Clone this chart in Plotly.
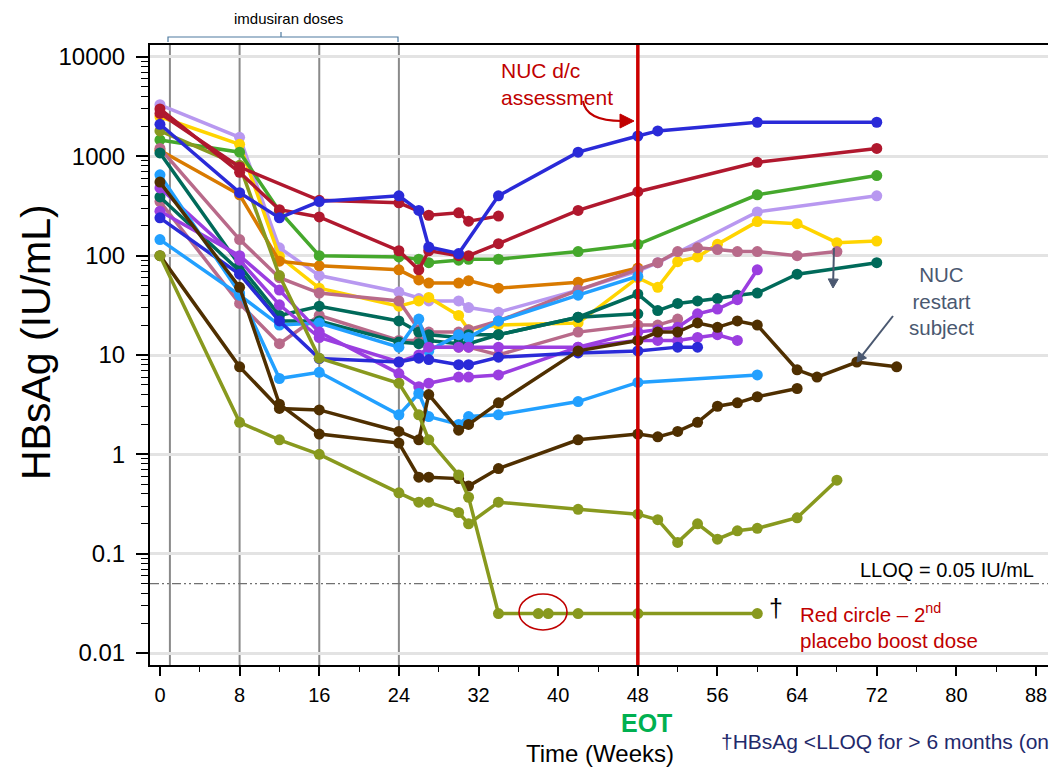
import math
import plotly.graph_objects as go

# ---------------- data (weeks, HBsAg IU/mL) ----------------
blueA_w = [0, 8, 12, 16, 24, 26, 27, 30, 34, 42, 48, 50, 60, 72]
blueA_v = [2100, 430, 240, 350, 400, 285, 122, 105, 400, 1100, 1600, 1800, 2200, 2200]

crimA_w = [0, 8, 16, 24, 27, 30, 31, 34]
crimA_v = [2700, 780, 360, 340, 255, 270, 222, 250]

crimB_w = [0, 8, 12, 16, 24, 26, 27, 30, 31, 34, 42, 48, 60, 72]
crimB_v = [3000, 690, 290, 245, 112, 72, 112, 100, 100, 132, 285, 440, 870, 1200]

green_w = [0, 8, 12, 16, 24, 26, 27, 30, 31, 34, 42, 48, 60, 72]
green_v = [1460, 1100, 280, 100, 97, 92, 85, 90, 92, 92, 110, 130, 410, 640]

lav_w = [0, 8, 12, 16, 24, 26, 27, 30, 31, 34, 42, 48, 50, 60, 72]
lav_v = [3300, 1550, 120, 63, 43, 37, 35, 35, 30, 27, 45, 70, 85, 275, 400]

yel_w = [0, 8, 12, 16, 24, 26, 27, 30, 31, 34, 42, 48, 50, 52, 54, 56, 60, 64, 68, 72]
yel_v = [2500, 1320, 98, 47, 31, 35, 38, 25, 18, 20, 21, 60, 48, 87, 97, 130, 220, 210, 135, 140]

orng_w = [0, 8, 12, 16, 24, 26, 27, 30, 31, 34, 42, 48]
orng_v = [1150, 410, 88, 79, 72, 57, 53, 53, 56, 47, 54, 75]

mauA_w = [0, 8, 12, 16, 24, 26, 27, 30, 31, 34, 42, 48, 50, 52, 54, 56, 58, 60, 64, 68]
mauA_v = [1200, 145, 60, 42, 35, 18, 17, 17, 18, 22, 45, 72, 85, 110, 120, 115, 110, 110, 100, 110]

mauB_w = [0, 8, 12, 16, 24, 26, 27, 30, 31, 34, 42, 48, 50, 52]
mauB_v = [350, 33, 13, 25, 14, 14, 12, 12, 12, 10, 17, 20, 20, 23]

tealA_w = [0, 8, 12, 16, 24, 26, 27, 30, 31, 34, 42, 48, 50, 52, 54, 56, 58, 60, 64, 72]
tealA_v = [1080, 80, 25, 31, 22, 17, 16, 15, 16, 16, 24, 41, 28, 33, 35, 37, 40, 42, 65, 85]

tealB_w = [0, 8, 12, 16, 24, 26, 27, 30, 31, 34, 42, 48]
tealB_v = [390, 70, 22, 22, 13.5, 13, 14, 13, 13, 16, 24, 26]

ltbA_w = [0, 8, 12, 16, 24, 26, 27, 30, 31, 34, 42, 48, 60]
ltbA_v = [650, 42, 5.8, 6.7, 2.5, 4.1, 2.4, 2.0, 2.4, 2.5, 3.4, 5.3, 6.3]

ltbB_w = [0, 8, 12, 16, 24, 26, 27, 30, 31, 34, 42, 48]
ltbB_v = [145, 40, 20, 21, 12, 23, 11, 16, 15, 22, 40, 62]

purA_w = [0, 8, 12, 16, 24, 26, 27, 30, 31, 34, 42, 48, 50, 52, 54, 56, 58, 60]
purA_v = [280, 100, 45, 17, 6.5, 4.8, 5.2, 6, 6, 6.3, 12, 17, 18, 19, 26, 29, 36, 72]

purB_w = [0, 8, 12, 16, 24, 26, 27, 30, 31, 34, 42, 48, 50, 52, 54, 56, 58]
purB_v = [480, 90, 32, 15, 8.5, 10, 12, 12, 12, 12, 12, 14, 14, 14, 15, 16, 14]

blueB_w = [0, 8, 12, 16, 24, 26, 27, 30, 31, 34, 42, 48, 52, 54]
blueB_v = [240, 65, 22, 9.2, 8.5, 9.3, 9, 8, 8, 9.5, 10.5, 11, 12, 12]

brnA_w = [0, 8, 12, 16, 24, 26, 27, 30, 31, 34, 42, 48, 50, 52, 54, 56, 58, 60, 64]
brnA_v = [550, 48, 3.2, 1.6, 1.3, 0.59, 0.59, 0.57, 0.48, 0.72, 1.4, 1.6, 1.5, 1.7, 2.1, 3.05, 3.3, 3.8, 4.6]

brnC_w = [0, 8, 12, 16, 24, 26, 27, 30, 31, 34, 42, 48, 50, 52, 54, 56, 58, 60, 64, 66, 70, 74]
brnC_v = [100, 7.6, 2.9, 2.8, 1.7, 1.4, 4.0, 1.75, 2.0, 3.3, 11, 14, 17, 17, 21, 19, 22, 20, 7.1, 6, 8.5, 7.6]

oliA_w = [0, 8, 12, 16, 24, 26, 27, 30, 31, 34, 42, 48, 50, 52, 54, 56, 58, 60, 64, 68]
oliA_v = [100, 2.1, 1.4, 1.0, 0.41, 0.33, 0.33, 0.26, 0.2, 0.33, 0.28, 0.25, 0.22, 0.13, 0.2, 0.14, 0.17, 0.18, 0.23, 0.55]

oliB_w = [0, 8, 12, 16, 24, 26, 27, 30, 31, 34, 38, 39, 42, 48, 60]
oliB_v = [1800, 810, 63, 9.3, 5.2, 2.5, 1.4, 0.62, 0.37, 0.025, 0.025, 0.025, 0.025, 0.025, 0.025]

x_ticks = [0, 8, 16, 24, 32, 40, 48, 56, 64, 72, 80, 88]
y_ticks = [0.01, 0.1, 1, 10, 100, 1000, 10000]
y_tick_text = ["0.01", "0.1", "1", "10", "100", "1000", "10000"]
dose_weeks = [1, 8, 16, 24]
eot_week = 48
lloq = 0.05
dotted_levels = [100, 10]

# ---------------- colours ----------------
C_BLUE = "#2a2ad8"
C_CRIM = "#b0182e"
C_GREEN = "#45a82c"
C_LAV = "#b898f0"
C_YEL = "#ffd400"
C_ORNG = "#d97a00"
C_MAU = "#b86a8a"
C_TEAL = "#006a5a"
C_LTB = "#22a0ff"
C_PUR = "#9b3ee0"
C_BRN = "#4f2f00"
C_OLI = "#88991e"

series = [
    (lav_w, lav_v, C_LAV),
    (yel_w, yel_v, C_YEL),
    (orng_w, orng_v, C_ORNG),
    (green_w, green_v, C_GREEN),
    (mauA_w, mauA_v, C_MAU),
    (mauB_w, mauB_v, C_MAU),
    (tealB_w, tealB_v, C_TEAL),
    (tealA_w, tealA_v, C_TEAL),
    (ltbB_w, ltbB_v, C_LTB),
    (purB_w, purB_v, C_PUR),
    (purA_w, purA_v, C_PUR),
    (blueB_w, blueB_v, C_BLUE),
    (ltbA_w, ltbA_v, C_LTB),
    (brnA_w, brnA_v, C_BRN),
    (brnC_w, brnC_v, C_BRN),
    (oliA_w, oliA_v, C_OLI),
    (oliB_w, oliB_v, C_OLI),
    (crimB_w, crimB_v, C_CRIM),
    (crimA_w, crimA_v, C_CRIM),
    (blueA_w, blueA_v, C_BLUE),
]

fig = go.Figure()
for w, v, c in series:
    fig.add_trace(go.Scatter(
        x=w, y=v, mode="lines+markers",
        line=dict(color=c, width=3.5),
        marker=dict(color=c, size=11),
        showlegend=False, hoverinfo="skip",
    ))

FONT = "Liberation Sans, Arial, sans-serif"

# page has an 8px body margin: figure origin is at screen (8, 8)
OFF = 8
FIG_W, FIG_H = 1058 - OFF, 767 - OFF
# plot area in screen pixels
L, R, T, B = 150, 1048, 45, 665


def px(x):
    return (x - L) / (R - L)


def py(y):
    return (B - y) / (B - T)


shapes = []
for d in dose_weeks:
    shapes.append(dict(type="line", xref="x", yref="paper", x0=d, x1=d, y0=0, y1=1,
                       line=dict(color="#8a8a8a", width=2), layer="between"))
for yv in dotted_levels:
    shapes.append(dict(type="line", xref="paper", yref="y", x0=0, x1=1, y0=yv, y1=yv,
                       line=dict(color="#8c8c8c", width=1.5, dash="dot"), layer="between"))
shapes.append(dict(type="line", xref="paper", yref="y", x0=0, x1=1, y0=lloq, y1=lloq,
                   line=dict(color="#707070", width=1.2, dash="9px,3px,2px,3px,2px,3px"),
                   layer="between"))
shapes.append(dict(type="line", xref="x", yref="paper", x0=eot_week, x1=eot_week, y0=0, y1=1,
                   line=dict(color="#cc0000", width=3.5)))
# red circle around boost-dose points
shapes.append(dict(type="circle", xref="paper", yref="paper",
                   x0=px(519), x1=px(567), y0=py(630), y1=py(594),
                   line=dict(color="#c00000", width=1.6)))
# dose bracket
bx0, bx1, bxm = px(168), px(398), px(281)
yb, yt, yn = py(42), py(37), py(32)
shapes.append(dict(type="path", xref="paper", yref="paper",
                   path=f"M {bx0},{yb} L {bx0},{yt} L {bx1},{yt} L {bx1},{yb} M {bxm},{yt} L {bxm},{yn}",
                   line=dict(color="#4f7ba0", width=1.2)))
# curved red arrow
shapes.append(dict(type="path", xref="paper", yref="paper",
                   path=f"M {px(583)},{py(101)} Q {px(586)},{py(121)} {px(622)},{py(121)}",
                   line=dict(color="#c00000", width=2)))
shapes.append(dict(type="path", xref="paper", yref="paper",
                   path=f"M {px(620)},{py(114)} L {px(634)},{py(121)} L {px(620)},{py(128)} Z",
                   fillcolor="#c00000", line=dict(color="#c00000", width=1)))


def arrow(x0, y0, x1, y1, color, width=2, head=9, half=5):
    dx, dy = x1 - x0, y1 - y0
    n = math.hypot(dx, dy)
    ux, uy = dx / n, dy / n
    bx, by = x1 - ux * head, y1 - uy * head
    nx, ny = -uy, ux
    shapes.append(dict(type="line", xref="paper", yref="paper",
                       x0=px(x0), y0=py(y0), x1=px(bx), y1=py(by),
                       line=dict(color=color, width=width)))
    shapes.append(dict(type="path", xref="paper", yref="paper",
                       path=(f"M {px(bx + nx * half)},{py(by + ny * half)} L {px(x1)},{py(y1)} "
                             f"L {px(bx - nx * half)},{py(by - ny * half)} Z"),
                       fillcolor=color, line=dict(color=color, width=1)))


arrow(834, 248, 833, 288, "#4a5870")
arrow(893, 316, 857, 362, "#4a5870")

ann = []


def text(xp, yp, s, size, color="black", xanchor="center", yanchor="middle", align="center", **kw):
    ann.append(dict(x=px(xp), y=py(yp), xref="paper", yref="paper", text=s, showarrow=False,
                    font=dict(family=FONT, size=size, color=color), xanchor=xanchor,
                    yanchor=yanchor, align=align, **kw))


text(288, 18, "imdusiran doses", 15)
text(499, 84, "NUC d/c<br>assessment", 21, "#c00000", xanchor="left", align="left")
text(1036, 570, "LLOQ = 0.05 IU/mL", 20, xanchor="right")
text(776, 608, "†", 25)
text(798, 626, "Red circle – 2<sup>nd</sup><br>placebo boost dose", 20.5, "#c00000",
     xanchor="left", align="left")
text(941, 301, "NUC<br>restart<br>subject", 20.5, "#4a5870")
text(646, 723, "<b>EOT</b>", 25, "#00b050")
text(600, 753, "Time (Weeks)", 24)
text(719, 741, "†HBsAg &lt;LLOQ for &gt; 6 months (on", 21, "#1f2a6b", xanchor="left")
text(36, 342, "HBsAg (IU/mL)", 41, textangle=-90)

minor_y = [m * 10 ** e for e in range(-2, 4) for m in range(2, 10)]
minor_x = [t + 4 for t in x_ticks[:-1]]

fig.update_layout(
    width=FIG_W, height=FIG_H,
    margin=dict(l=L - OFF, r=FIG_W - (R - OFF), t=T - OFF, b=FIG_H - (B - OFF)),
    paper_bgcolor="white", plot_bgcolor="white",
    font=dict(family=FONT, color="black"),
    shapes=shapes, annotations=ann, showlegend=False,
    xaxis=dict(range=[-1.0, 89.2], tickmode="array", tickvals=x_ticks,
               ticks="outside", ticklen=9, tickwidth=1.5, tickcolor="black",
               showline=True, linecolor="black", linewidth=2, mirror=True,
               showgrid=False, zeroline=False, ticklabelstandoff=2,
               tickfont=dict(size=20, family=FONT),
               minor=dict(tickmode="array", tickvals=minor_x, ticks="outside",
                          ticklen=5, tickwidth=1.2, tickcolor="black")),
    yaxis=dict(type="log", range=[-2.12, 4.12], tickmode="array",
               tickvals=y_ticks, ticktext=y_tick_text,
               ticks="outside", ticklen=12, tickwidth=1.5, tickcolor="black",
               showline=True, linecolor="black", linewidth=2,
               showgrid=True, gridcolor="#e3e3e3", gridwidth=3, zeroline=False,
               ticklabelstandoff=6,
               tickfont=dict(size=24, family=FONT),
               minor=dict(tickmode="array", tickvals=minor_y, ticks="outside",
                          ticklen=7, tickwidth=1.2, tickcolor="black", showgrid=False)),
)

fig.write_html("out.html")
